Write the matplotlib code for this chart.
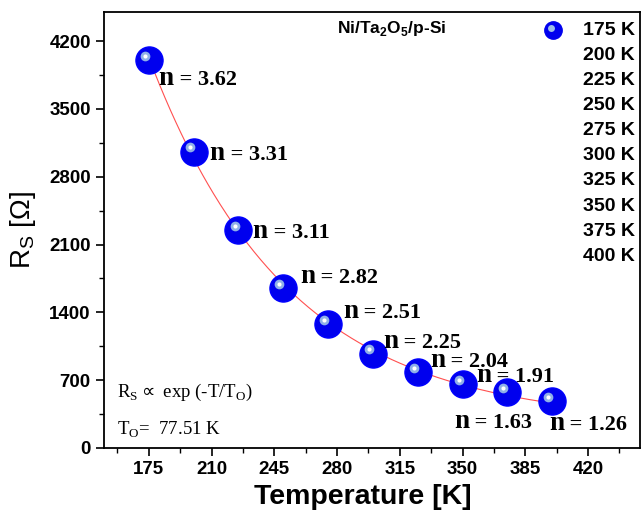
import numpy as np
import matplotlib
matplotlib.use("Agg")
import matplotlib.pyplot as plt
from matplotlib.transforms import offset_copy
from matplotlib.ticker import MultipleLocator

temps = [175, 200, 225, 250, 275, 300, 325, 350, 375, 400]
rs = [4000, 3060, 2245, 1650, 1275, 975, 780, 660, 575, 485]
n_values = ["3.62", "3.31", "3.11", "2.82", "2.51", "2.25", "2.04", "1.91", "1.63", "1.26"]
n_pos = [(180.4, 3745), (208.9, 2975), (232.9, 2165), (259.2, 1700), (283.2, 1340),
         (305.6, 1035), (331.8, 840), (357.5, 685), (345.2, 210), (398.3, 190)]
legend_labels = ["175 K", "200 K", "225 K", "250 K", "275 K",
                 "300 K", "325 K", "350 K", "375 K", "400 K"]
T0 = 77.51

fig = plt.figure(figsize=(6.44, 5.17), dpi=100)
ax = fig.add_axes([104 / 644, 1 - 448 / 517, 536 / 644, 436 / 517])

# fit line R = A exp(-T/T0) + R0 (least squares on read values)
T = np.array(temps, float)
R = np.array(rs, float)
M = np.vstack([np.exp(-T / T0), np.ones_like(T)]).T
A, R0 = np.linalg.lstsq(M, R, rcond=None)[0]
tt = np.linspace(175, 400, 300)
ax.plot(tt, A * np.exp(-tt / T0) + R0, color="#ff5050", lw=0.8, zorder=2)

# sphere-like markers
ax.plot(temps, rs, 'o', ms=19.5, color="#0000ee", mec="#0000ff", zorder=3)
hl = offset_copy(ax.transData, fig=fig, x=-2.8, y=3.0, units='points')
ax.plot(temps, rs, 'o', ms=7, color="#8fb0e8", mec='none', transform=hl, zorder=4)
ax.plot(temps, rs, 'o', ms=3, color="white", mec='none', transform=hl, zorder=5)

for (x, y), val in zip(n_pos, n_values):
    ax.text(x, y, "n", fontsize=19.5, fontweight='bold', family='Liberation Serif',
            va='baseline', ha='left', zorder=6)
    tr = offset_copy(ax.transData, fig=fig, x=11.0, y=0, units='points')
    ax.text(x, y, " = " + val, fontsize=16, fontweight='bold', family='Liberation Serif',
            va='baseline', ha='left', zorder=6, transform=tr)

ax.set_xlim(150, 449)
ax.set_ylim(0, 4500)
ax.set_xticks([175, 210, 245, 280, 315, 350, 385, 420])
ax.set_yticks([0, 700, 1400, 2100, 2800, 3500, 4200])
ax.xaxis.set_minor_locator(MultipleLocator(17.5))
ax.yaxis.set_minor_locator(MultipleLocator(350))
ax.tick_params(which='major', direction='out', length=6, width=1.2, labelsize=13.5,
               top=False, right=False)
ax.tick_params(which='minor', direction='out', length=3.5, width=1.0, top=False, right=False)
for lab in ax.get_xticklabels() + ax.get_yticklabels():
    lab.set_fontweight('bold')
    lab.set_family('Liberation Sans')
for s in ax.spines.values():
    s.set_linewidth(1.3)

ax.set_xlabel("Temperature [K]", fontsize=20.5, fontweight='bold', family='Liberation Sans')
ax.xaxis.set_label_coords(0.482, -0.083)
ax.set_ylabel(r"R$_\mathregular{S}$ [Ω]", fontsize=20, family='Liberation Sans', labelpad=8)

ax.text(0.537, 0.963, r"Ni/Ta$_\mathregular{2}$O$_\mathregular{5}$/p-Si", transform=ax.transAxes,
        fontsize=12.5, fontweight='bold', family='Liberation Sans', ha='center', va='center')

# legend-like labels
y0 = 0.958
dy = 0.0576
ax.plot([0.838], [y0], 'o', ms=12.5, color="#0000ee", transform=ax.transAxes, clip_on=False)
hl2 = offset_copy(ax.transAxes, fig=fig, x=-1.8, y=1.8, units='points')
ax.plot([0.838], [y0], 'o', ms=5, color="#9fbfe8", mec='none', transform=hl2)
for i, lab in enumerate(legend_labels):
    ax.text(0.894, y0 - i * dy, lab, transform=ax.transAxes, fontsize=14,
            fontweight='bold', family='Liberation Sans', ha='left', va='center')

ax.text(0.024, 0.127, r"R$_\mathregular{S}\propto$ exp (-T/T$_\mathregular{O}$)", transform=ax.transAxes,
        fontsize=13.5, family='Liberation Serif', ha='left', va='center')
ax.text(0.024, 0.042, r"T$_\mathregular{O}$=  77.51 K", transform=ax.transAxes,
        fontsize=13.5, family='Liberation Serif', ha='left', va='center')

fig.savefig("out.png", dpi=100)
